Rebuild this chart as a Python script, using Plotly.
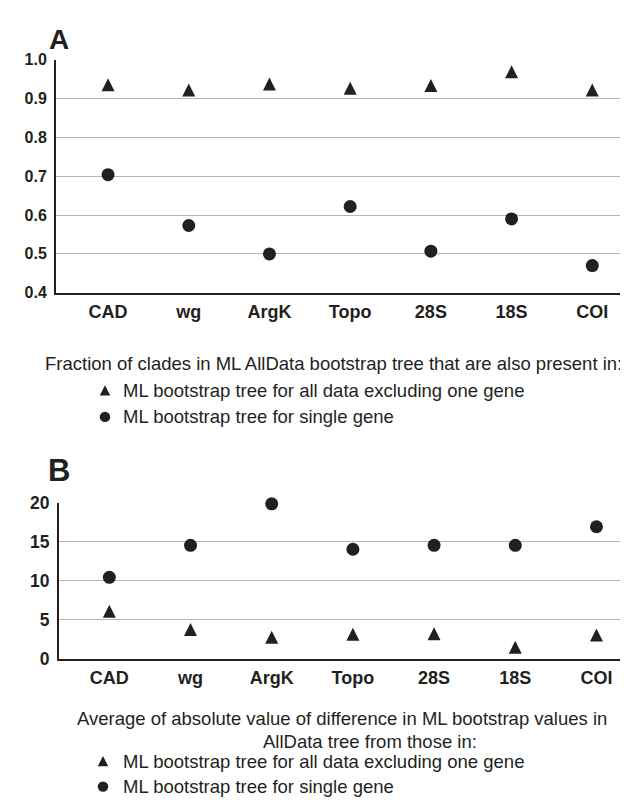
import plotly.graph_objects as go

genes = ["CAD", "wg", "ArgK", "Topo", "28S", "18S", "COI"]

# Panel A: fraction of clades in ML AllData bootstrap tree also present in ...
a_excl_one = [0.936, 0.922, 0.938, 0.927, 0.934, 0.969, 0.922]
a_single = [0.704, 0.573, 0.500, 0.622, 0.507, 0.590, 0.470]
a_ticks = [0.4, 0.5, 0.6, 0.7, 0.8, 0.9, 1.0]

# Panel B: average absolute difference in ML bootstrap values
b_excl_one = [6.11, 3.79, 2.78, 3.16, 3.24, 1.49, 3.08]
b_single = [10.46, 14.56, 19.90, 14.06, 14.56, 14.56, 16.95]
b_ticks = [0, 5, 10, 15, 20]

caption_a = "Fraction of clades in ML AllData bootstrap tree that are also present in:"
caption_b1 = "Average of absolute value of difference in ML bootstrap values in"
caption_b2 = "AllData tree from those in:"
legend_excl = "ML bootstrap tree for all data excluding one gene"
legend_single = "ML bootstrap tree for single gene"

W, H = 628, 809
INK = "#231f20"
GRID = "#b5b5b5"
FONT = "Arial, Liberation Sans, sans-serif"
TRI = 13  # triangle marker size (px); arrow-up markers have their apex at the point


def X(px):
    return px / W


def Y(py):
    return 1 - py / H


# plot areas in pixels (left, right, top, bottom)
A_L, A_R, A_T, A_B = 48, 622.7, 42.7, 281.7
B_L, B_R, B_T, B_B = 51, 625, 497.3, 657
SH = TRI / 2  # lift triangle layer so the triangle is centred on its value

fig = go.Figure()

fig.add_trace(go.Scatter(x=genes, y=a_single, mode="markers", xaxis="x", yaxis="y",
                         marker=dict(symbol="circle", size=13, color=INK),
                         cliponaxis=False, showlegend=False, name=legend_single))
fig.add_trace(go.Scatter(x=genes, y=a_excl_one, mode="markers", xaxis="x", yaxis="y3",
                         marker=dict(symbol="arrow-up", size=TRI, color=INK,
                                     line=dict(width=0)),
                         cliponaxis=False, showlegend=False, name=legend_excl))
fig.add_trace(go.Scatter(x=genes, y=b_single, mode="markers", xaxis="x2", yaxis="y2",
                         marker=dict(symbol="circle", size=13, color=INK),
                         cliponaxis=False, showlegend=False, name=legend_single))
fig.add_trace(go.Scatter(x=genes, y=b_excl_one, mode="markers", xaxis="x2", yaxis="y4",
                         marker=dict(symbol="arrow-up", size=TRI, color=INK,
                                     line=dict(width=0)),
                         cliponaxis=False, showlegend=False, name=legend_excl))

ytickfont_a = dict(family=FONT, size=16, color=INK, weight="bold")
ytickfont_b = dict(family=FONT, size=17.5, color=INK, weight="bold")
xtickfont = dict(family=FONT, size=18, color=INK, weight="bold")

common_x = dict(type="category", showgrid=False, showline=True, linecolor=INK, linewidth=2,
                ticks="outside", ticklen=2, tickcolor="rgba(0,0,0,0)", tickfont=xtickfont,
                zeroline=False, fixedrange=True)
common_y = dict(showgrid=True, gridcolor=GRID, gridwidth=1, showline=True, linecolor=INK,
                linewidth=2, ticks="outside", ticklen=4, tickcolor="rgba(0,0,0,0)",
                zeroline=False, fixedrange=True)
hidden_y = dict(visible=False, showgrid=False, zeroline=False, fixedrange=True)

fig.update_layout(
    width=W, height=H,
    margin=dict(l=0, r=0, t=0, b=0),
    paper_bgcolor="white", plot_bgcolor="rgba(0,0,0,0)",
    showlegend=False,
    xaxis=dict(common_x, domain=[X(A_L), X(A_R)], range=[-0.645, 6.476], anchor="y"),
    yaxis=dict(common_y, domain=[Y(A_B), Y(A_T)], range=[0.4, 1.0], tickvals=a_ticks,
               tickformat=".1f", tickfont=ytickfont_a, anchor="x"),
    yaxis3=dict(hidden_y, domain=[Y(A_B - SH), Y(A_T - SH)], range=[0.4, 1.0], anchor="x"),
    xaxis2=dict(common_x, domain=[X(B_L), X(B_R)], range=[-0.62, 6.45], anchor="y2"),
    yaxis2=dict(common_y, domain=[Y(B_B), Y(B_T)], range=[0, 20], tickvals=b_ticks,
                tickfont=ytickfont_b, anchor="x2"),
    yaxis4=dict(hidden_y, domain=[Y(B_B - SH), Y(B_T - SH)], range=[0, 20], anchor="x2"),
)

txt = dict(family=FONT, size=18.5, color=INK)


def note(text, x, y, font=txt, xanchor="left"):
    return dict(text=text, x=X(x), y=Y(y), xref="paper", yref="paper", showarrow=False,
                xanchor=xanchor, yanchor="middle", font=font)


ann = [
    note("A", 51, 22.5, dict(family=FONT, size=28, color=INK, weight="bold"), "center"),
    note("B", 50.5, 464.3, dict(family=FONT, size=31, color=INK, weight="bold"), "center"),
    note(caption_a, 35, 354.5),
    note(legend_excl, 113, 381.7),
    note(legend_single, 113, 409),
    note(caption_b1, 67, 718.5),
    note(caption_b2, 253, 741.5),
    note(legend_excl, 113, 762),
    note(legend_single, 113, 788),
]
fig.update_layout(annotations=ann)

# legend symbols drawn as shapes in paper coordinates
def tri(cx, cy, w=10.5, h=10.5):
    x0, x1 = X(cx - w / 2), X(cx + w / 2)
    yb, yt = Y(cy + h / 2), Y(cy - h / 2)
    return dict(type="path", xref="paper", yref="paper",
                path=f"M {x0} {yb} L {x1} {yb} L {X(cx)} {yt} Z",
                fillcolor=INK, line=dict(width=0))


def circ(cx, cy, d=10.5):
    return dict(type="circle", xref="paper", yref="paper",
                x0=X(cx - d / 2), x1=X(cx + d / 2), y0=Y(cy + d / 2), y1=Y(cy - d / 2),
                fillcolor=INK, line=dict(width=0))


fig.update_layout(shapes=[tri(97, 381.7), circ(97, 409), tri(95, 762), circ(95, 788)])

fig.write_html("out.html")
